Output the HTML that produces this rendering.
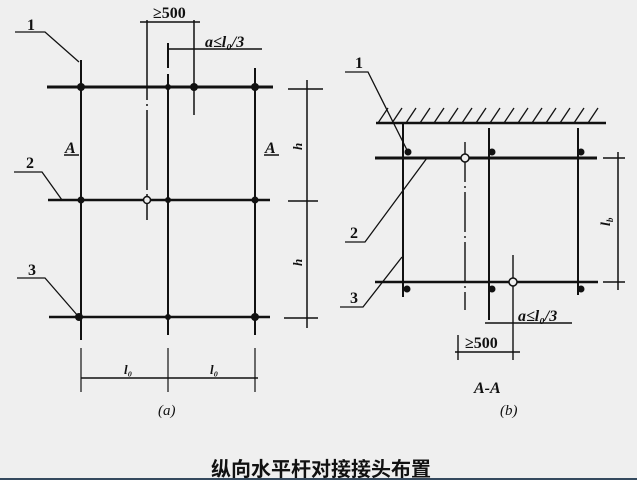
<!DOCTYPE html>
<html><head><meta charset="utf-8"><style>
html,body{margin:0;padding:0;background:#efefef;}
svg{display:block;}
text{font-family:"Liberation Serif","Noto Serif CJK SC",serif;font-style:italic;font-weight:bold;fill:#111;}
</style></head><body>
<svg width="637" height="480" viewBox="0 0 637 480" xmlns="http://www.w3.org/2000/svg">
<rect width="637" height="480" fill="#efefef"/>
<g stroke="#111" fill="none">
<line x1="47" y1="87" x2="273" y2="87" stroke-width="3"/>
<line x1="48" y1="200" x2="270" y2="200" stroke-width="2.5"/>
<line x1="49" y1="317" x2="270" y2="317" stroke-width="2.5"/>
<line x1="81" y1="60" x2="81" y2="340" stroke-width="2"/>
<line x1="81" y1="348" x2="81" y2="392" stroke-width="1.2"/>
<line x1="168" y1="43" x2="168" y2="68" stroke-width="2"/>
<line x1="168" y1="74" x2="168" y2="335" stroke-width="2"/>
<line x1="168" y1="348" x2="168" y2="392" stroke-width="1.2"/>
<line x1="255" y1="68" x2="255" y2="335" stroke-width="2"/>
<line x1="255" y1="348" x2="255" y2="392" stroke-width="1.2"/>
<line x1="147" y1="20" x2="147" y2="220" stroke-width="1.5" stroke-dasharray="80 4 2 4"/>
<line x1="194" y1="20" x2="194" y2="115" stroke-width="1.5"/>
<line x1="140" y1="22" x2="200" y2="22" stroke-width="1.5"/>
<line x1="168" y1="49" x2="262" y2="49" stroke-width="1.5"/>
<line x1="307" y1="80" x2="307" y2="328" stroke-width="1.5"/>
<line x1="288" y1="89" x2="323" y2="89" stroke-width="1.5"/>
<line x1="288" y1="201" x2="318" y2="201" stroke-width="1.5"/>
<line x1="284" y1="318" x2="318" y2="318" stroke-width="1.5"/>
<line x1="81" y1="378" x2="258" y2="378" stroke-width="1.5"/>
<polyline points="15,32 45,32 79,62" stroke-width="1.3"/>
<polyline points="14,172 42,172 62,200" stroke-width="1.3"/>
<polyline points="17,278 45,278 78,316" stroke-width="1.3"/>
<line x1="64" y1="155" x2="79" y2="155" stroke-width="1.5"/>
<line x1="264" y1="155" x2="279" y2="155" stroke-width="1.5"/>

<line x1="376" y1="123" x2="606" y2="123" stroke-width="2.5"/>
<g stroke-width="1.3">
<line x1="378" y1="123" x2="388" y2="108"/><line x1="392" y1="123" x2="402" y2="108"/>
<line x1="406" y1="123" x2="416" y2="108"/><line x1="420" y1="123" x2="430" y2="108"/>
<line x1="434" y1="123" x2="444" y2="108"/><line x1="448" y1="123" x2="458" y2="108"/>
<line x1="462" y1="123" x2="472" y2="108"/><line x1="476" y1="123" x2="486" y2="108"/>
<line x1="490" y1="123" x2="500" y2="108"/><line x1="504" y1="123" x2="514" y2="108"/>
<line x1="518" y1="123" x2="528" y2="108"/><line x1="532" y1="123" x2="542" y2="108"/>
<line x1="546" y1="123" x2="556" y2="108"/><line x1="560" y1="123" x2="570" y2="108"/>
<line x1="574" y1="123" x2="584" y2="108"/><line x1="588" y1="123" x2="598" y2="108"/>
</g>
<line x1="375" y1="158" x2="597" y2="158" stroke-width="3"/>
<line x1="375" y1="282" x2="598" y2="282" stroke-width="2.5"/>
<line x1="403" y1="123" x2="403" y2="297" stroke-width="2"/>
<line x1="489" y1="128" x2="489" y2="320" stroke-width="2"/>
<line x1="578" y1="128" x2="578" y2="295" stroke-width="2"/>
<line x1="465" y1="142" x2="465" y2="310" stroke-width="1.4" stroke-dasharray="40 4 2 4"/>
<line x1="513" y1="255" x2="513" y2="360" stroke-width="1.4"/>
<line x1="458" y1="335" x2="458" y2="360" stroke-width="1.4"/>
<line x1="618" y1="152" x2="618" y2="290" stroke-width="1.5"/>
<line x1="603" y1="158" x2="625" y2="158" stroke-width="1.5"/>
<line x1="603" y1="282" x2="625" y2="282" stroke-width="1.5"/>
<line x1="485" y1="323" x2="572" y2="323" stroke-width="1.5"/>
<line x1="455" y1="352" x2="520" y2="352" stroke-width="1.5"/>
<polyline points="345,72 368,72 407,150" stroke-width="1.3"/>
<polyline points="345,242 365,242 427,158" stroke-width="1.3"/>
<polyline points="340,307 363,307 402,257" stroke-width="1.3"/>
</g>
<g fill="#111">
<circle cx="81" cy="87" r="4"/><circle cx="168" cy="87" r="3"/><circle cx="194" cy="87" r="4"/><circle cx="255" cy="87" r="4"/>
<circle cx="81" cy="200" r="3.5"/><circle cx="168" cy="200" r="3"/><circle cx="255" cy="200" r="3.5"/>
<circle cx="79" cy="317" r="4"/><circle cx="168" cy="317" r="3"/><circle cx="255" cy="317" r="4"/>
<circle cx="408" cy="152" r="3.5"/><circle cx="492" cy="152" r="3.5"/><circle cx="581" cy="152" r="3.5"/>
<circle cx="407" cy="289" r="3.5"/><circle cx="492" cy="289" r="3.5"/><circle cx="581" cy="289" r="3.5"/>
</g>
<circle cx="147" cy="200" r="3.5" fill="#efefef" stroke="#111" stroke-width="1.5"/>
<circle cx="465" cy="158" r="4" fill="#efefef" stroke="#111" stroke-width="1.5"/>
<circle cx="513" cy="282" r="4" fill="#efefef" stroke="#111" stroke-width="1.5"/>
<g font-size="16">
<text x="27" y="30" style="font-style:normal">1</text>
<text x="26" y="168" style="font-style:normal">2</text>
<text x="28" y="275" style="font-style:normal">3</text>
<text x="65" y="153">A</text>
<text x="265" y="153">A</text>
<text x="153" y="18" style="font-style:normal">≥500</text>
<text x="205" y="47">a≤l₀/3</text>
<text x="124" y="374" font-size="13">l₀</text>
<text x="210" y="374" font-size="13">l₀</text>
<text x="158" y="415" font-size="15" style="font-weight:normal">(a)</text>
<text x="355" y="68" style="font-style:normal">1</text>
<text x="350" y="238" style="font-style:normal">2</text>
<text x="350" y="303" style="font-style:normal">3</text>
<text x="518" y="321">a≤l₀/3</text>
<text x="465" y="348" style="font-style:normal">≥500</text>
<text x="474" y="393">A-A</text>
<text x="500" y="415" font-size="15" style="font-weight:normal">(b)</text>
</g>
<text transform="translate(302,150) rotate(-90)" font-size="13">h</text>
<text transform="translate(302,266) rotate(-90)" font-size="13">h</text>
<text transform="translate(610,226) rotate(-90)" font-size="14">l<tspan font-size="9" dy="3">b</tspan></text>
<text x="321" y="476" text-anchor="middle" font-size="20" style="font-family:'Noto Sans CJK SC','WenQuanYi Zen Hei',sans-serif;font-style:normal;font-weight:bold">纵向水平杆对接接头布置</text>
<rect x="0" y="478" width="637" height="2" fill="#34495e"/>
</svg>
</body></html>
